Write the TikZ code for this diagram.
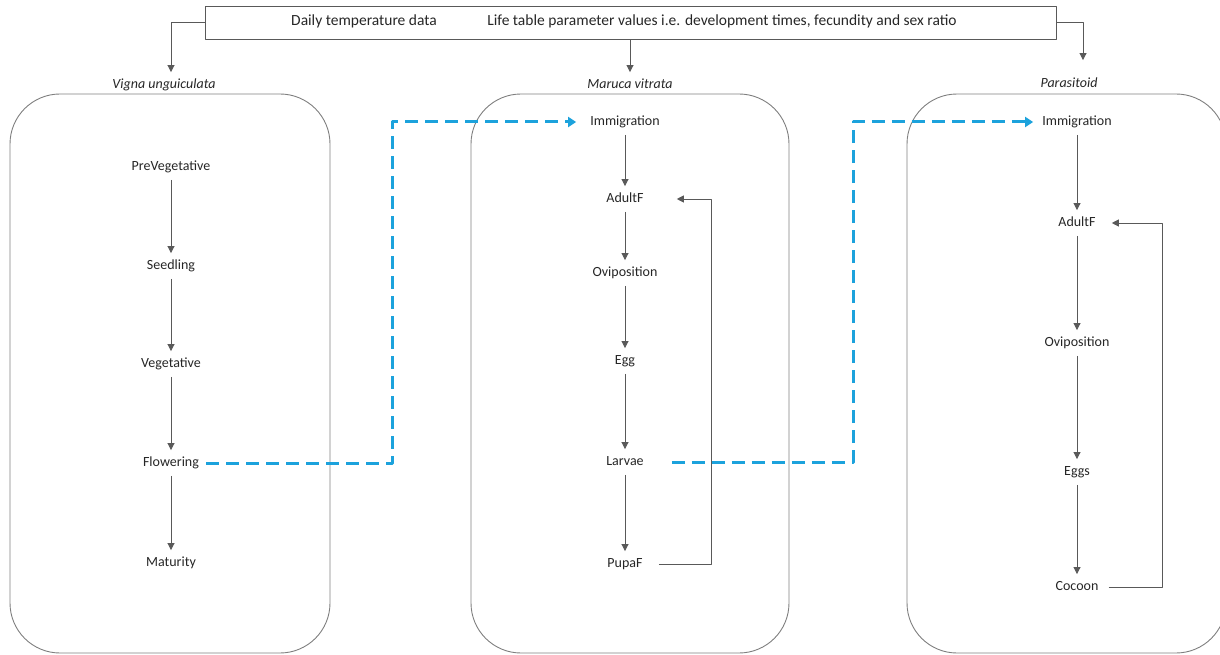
\documentclass[tikz,border=0pt]{standalone}
\usepackage{fontspec}
\setmainfont{Carlito}
\usetikzlibrary{arrows.meta}

\definecolor{linegray}{HTML}{595959}
\definecolor{boxgray}{HTML}{7F7F7F}
\definecolor{dashblue}{HTML}{1CA2DC}
\definecolor{textgray}{HTML}{262626}

\begin{document}
\begin{tikzpicture}[x={(1pt,0pt)}, y={(0pt,-1pt)}, line join=round,
  stage/.style={inner xsep=3pt, inner ysep=6.5pt, text height=9.5pt, text depth=3pt,
    text=textgray, font=\fontsize{14}{16}\selectfont},
  title/.style={stage, font=\fontsize{14}{16}\selectfont\itshape},
  panel/.style={draw=boxgray, line width=0.9pt, rounded corners=50pt},
  flow/.style={draw=linegray, line width=0.9pt, -{Triangle[width=7pt,length=7pt]}},
  back/.style={draw=linegray, line width=0.9pt, -{Triangle[width=7pt,length=7pt]}},
  link/.style={draw=dashblue, line width=3pt, dash pattern=on 13pt off 7pt,
    -{Triangle[width=10pt,length=8pt]}}]

\useasboundingbox (0,0) rectangle (1220,655);

% Input box at the top
\node[draw=linegray, line width=0.9pt, minimum width=851pt, minimum height=33pt,
  inner sep=0pt, anchor=north west] (top) at (205,6) {};
\node[stage, font=\fontsize{15.5}{18}\selectfont] (temp) at (364,22) {Daily temperature data};
\node[stage, font=\fontsize{15.5}{18}\selectfont] (life) at (722,22)
  {Life table parameter values i.e. development times, fecundity and sex ratio};

% Panels
\draw[panel] (10,94) rectangle (330,653);   % cowpea
\draw[panel] (471,94) rectangle (789,653);  % pod borer
\draw[panel] (907,94) rectangle (1226,653); % parasitoid

% Panel titles
\node[title] (vigna) at (164,85) {Vigna unguiculata};
\node[title] (maruca) at (630,85) {Maruca vitrata};
\node[title] (para) at (1069,84) {Parasitoid};

% Inputs to the panels
\draw[flow] (top.west) -| ([xshift=7pt]vigna.north);
\draw[flow] (top.south -| maruca.north) -- (maruca.north);
\draw[flow, shorten >=11pt] (top.east) -| ([xshift=14pt]para.north);

% Vigna unguiculata stages
\node[stage] (pre)  at (171,167) {PreVegetative};
\node[stage] (seed) at (171,266) {Seedling};
\node[stage] (veg)  at (171,364) {Vegetative};
\node[stage] (flow) at (171,463) {Flowering};
\node[stage] (mat)  at (171,563) {Maturity};

% Maruca vitrata stages
\node[stage] (mimm)   at (625,122) {Immigration};
\node[stage] (madult) at (625,199) {AdultF};
\node[stage] (movi)   at (625,273) {Oviposition};
\node[stage] (megg)   at (625,361) {Egg};
\node[stage] (mlarv)  at (625,462) {Larvae};
\node[stage] (mpupa)  at (625,564) {PupaF};

% Parasitoid stages
\node[stage] (pimm)   at (1077,122) {Immigration};
\node[stage] (padult) at (1077,223) {AdultF};
\node[stage] (povi)   at (1077,343) {Oviposition};
\node[stage] (peggs)  at (1077,472) {Eggs};
\node[stage] (pcoc)   at (1077,587) {Cocoon};

% Stage to stage
\foreach \a/\b in {pre/seed, seed/veg, veg/flow, flow/mat,
                   mimm/madult, madult/movi, movi/megg, megg/mlarv, mlarv/mpupa,
                   pimm/padult, padult/povi, povi/peggs, peggs/pcoc}
  \draw[flow] (\a) -- (\b);

% Loops back to the adults
\coordinate (mturn) at (711,199);
\coordinate (pturn) at (1162,223);
\draw[back, shorten <=13pt] (mpupa.east) -| (mturn) -- ([xshift=30pt]madult.east);
\draw[back, shorten <=7pt] (pcoc.east) -| (pturn) -- ([xshift=13pt]padult.east);

% Links between the panels
\coordinate (hopA) at (392,122);
\coordinate (hopB) at (853,122);
\draw[link, shorten <=4pt, shorten >=11pt] (flow.east) -| (hopA) -- (mimm.west);
\draw[link, shorten <=25pt, shorten >=6pt] (mlarv.east) -| (hopB) -- (pimm.west);

\end{tikzpicture}
\end{document}
